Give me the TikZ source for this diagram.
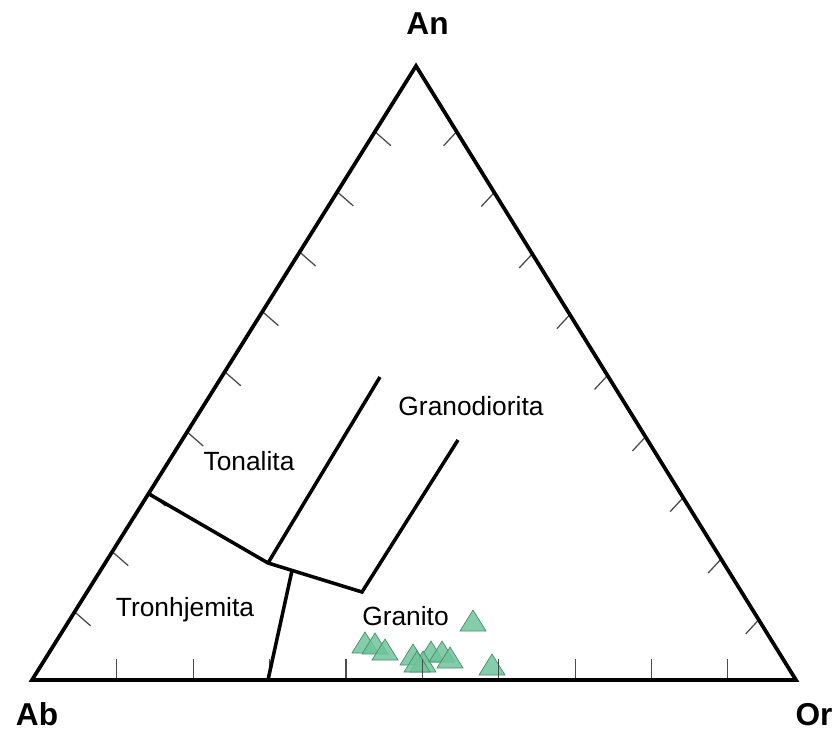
\documentclass[tikz,border=0pt]{standalone}
\usepackage{fontspec}
\setmainfont{Liberation Sans}
\usepackage{tikz}
\usetikzlibrary{calc}
\definecolor{samplegreen}{RGB}{112,196,155}
\definecolor{sampleedge}{RGB}{72,142,108}
\tikzset{
  side/.style={line width=3.2pt, line join=miter},
  field/.style={line width=3pt, line join=miter},
  tick/.style={line width=1.1pt, black!70},
  apex/.style={font=\bfseries\fontsize{27}{30}\selectfont, anchor=base},
  region/.style={font=\fontsize{22.5}{26}\selectfont, anchor=base},
  sample/.style={fill=samplegreen, draw=sampleedge, line width=0.6pt, fill opacity=0.85}
}
\begin{document}
\begin{tikzpicture}[x=0.03cm,y=-0.03cm]
	\useasboundingbox (0,0) rectangle (838,731);

	\coordinate (Ab) at (32,680);
	\coordinate (Or) at (796,680);
	\coordinate (An) at (416,66);

	% samples
	\foreach \x/\y in {473/631, 365/653, 375/654, 385/660, 413/665, 431/662,
	                   442/662, 450/668, 423/672, 417/672, 492/675}
		\draw[sample] (\x-13,\y) -- (\x+13,\y) -- (\x,\y-21) -- cycle;

	% ticks
	\foreach \t in {0.111,0.211,0.311,0.411,0.511,0.611,0.711,0.811,0.910}
		\draw[tick] ($(Ab)!\t!(Or)$) -- ++(0,-21);
	\foreach \t in {0.111,0.209,0.306,0.404,0.502,0.600,0.697,0.795,0.893}
		\draw[tick] ($(Ab)!\t!(An)$) -- ++(16,14);
	\foreach \t in {0.098,0.197,0.297,0.396,0.496,0.595,0.694,0.794,0.893}
		\draw[tick] ($(Or)!\t!(An)$) -- ++(-13,14);

	% fields
	\coordinate (tw) at (149,494);
	\coordinate (j1) at (268,563);
	\coordinate (j2) at (292,570.5);
	\coordinate (k) at (362,592);
	\coordinate (gd) at (458,440);
	\coordinate (tn) at (380,377);
	\coordinate (ft) at (268,680);
	\draw[field] (tw) -- (j1) -- (k) -- (gd);
	\draw[field] (j1) -- (tn);
	\draw[field] (j2) -- (ft);

	\draw[side] (Ab) -- (Or) -- (An) -- cycle;

	\node[apex] (lan) at (427.5,35) {An};
	\node[apex] (lab) at (37,725) {Ab};
	\node[apex] (lor) at (814,725) {Or};

	\node[region] (ton) at (249,470) {Tonalita};
	\node[region] (grd) at (471,415) {Granodiorita};
	\node[region] (tro) at (185,616) {Tronhjemita};
	\node[region] (gra) at (405.5,625) {Granito};
\end{tikzpicture}
\end{document}
